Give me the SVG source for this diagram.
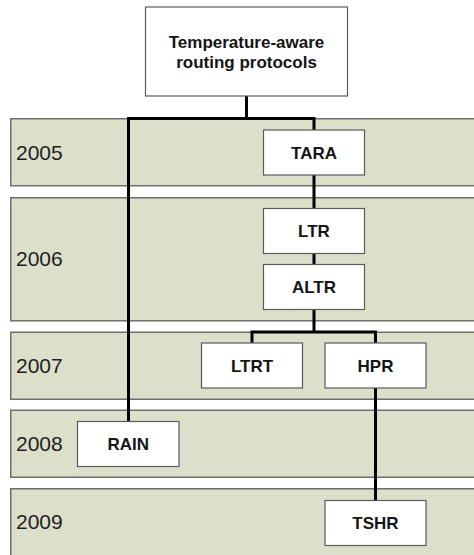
<svg xmlns="http://www.w3.org/2000/svg" width="474" height="555" viewBox="0 0 474 555">
  <style>
    .band { fill: #dcdfca; stroke: #6e6e6a; stroke-width: 1.5; }
    .year { font-family: "Liberation Sans", Arial, sans-serif; font-size: 21px; fill: #1e1e1e; }
    .box { fill: #ffffff; stroke: #5a5a5a; stroke-width: 1.2; }
    .label { font-family: "Liberation Sans", Arial, sans-serif; font-size: 17px; font-weight: bold; fill: #151515; text-anchor: middle; }
    .wire { fill: none; stroke: #000000; stroke-width: 3; stroke-linejoin: miter; stroke-linecap: butt; }
  </style>
  <rect width="474" height="555" fill="#ffffff"/>

  <!-- year bands -->
  <g id="bands">
    <g id="band-2005"><rect class="band" x="10.75" y="118.75" width="470" height="67"/><text class="year" x="16" y="159.5">2005</text></g>
    <g id="band-2006"><rect class="band" x="10.75" y="197.75" width="470" height="123"/><text class="year" x="16" y="266">2006</text></g>
    <g id="band-2007"><rect class="band" x="10.75" y="332.25" width="470" height="67"/><text class="year" x="16" y="372.5">2007</text></g>
    <g id="band-2008"><rect class="band" x="10.75" y="410.25" width="470" height="67"/><text class="year" x="16" y="451">2008</text></g>
    <g id="band-2009"><rect class="band" x="10.75" y="488.75" width="470" height="67"/><text class="year" x="16" y="529">2009</text></g>
  </g>

  <!-- connectors -->
  <g id="connectors">
    <path class="wire" d="M246.5 96 V118.5 M128.5 118.5 H314 M128.5 117 V421.5 M314 117 V130"/>
    <path class="wire" d="M314 175 V208.5 M314 253.5 V264.5 M314 309.5 V332"/>
    <path class="wire" d="M252 343 V332 H375.5 V343"/>
    <path class="wire" d="M375.5 388 V500.5"/>
  </g>

  <!-- nodes -->
  <g id="root">
    <rect class="box" x="145.5" y="7" width="202" height="89"/>
    <text class="label" x="246.5" y="48">Temperature-aware</text>
    <text class="label" x="246.5" y="67.5">routing protocols</text>
  </g>
  <g id="tara"><rect class="box" x="263.5" y="130" width="101" height="45"/><text class="label" x="314" y="158.5">TARA</text></g>
  <g id="ltr"><rect class="box" x="263.5" y="208.5" width="101" height="45"/><text class="label" x="314" y="237">LTR</text></g>
  <g id="altr"><rect class="box" x="263.5" y="264.5" width="101" height="45"/><text class="label" x="314" y="293">ALTR</text></g>
  <g id="ltrt"><rect class="box" x="201.5" y="343" width="101" height="45"/><text class="label" x="252" y="371.5">LTRT</text></g>
  <g id="hpr"><rect class="box" x="325" y="343" width="101" height="45"/><text class="label" x="375.5" y="371.5">HPR</text></g>
  <g id="rain"><rect class="box" x="77.5" y="421.5" width="101.5" height="45"/><text class="label" x="128.3" y="450">RAIN</text></g>
  <g id="tshr"><rect class="box" x="325" y="500.5" width="101" height="45"/><text class="label" x="375.5" y="529">TSHR</text></g>
</svg>
